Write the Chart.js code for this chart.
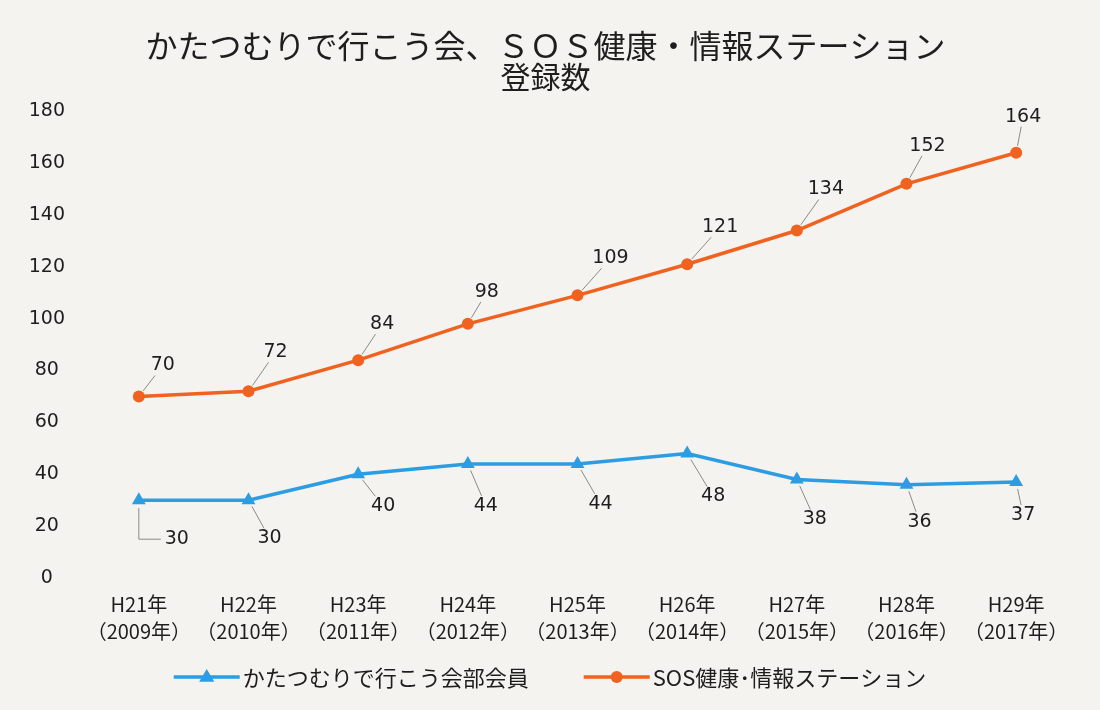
<!DOCTYPE html>
<html lang="ja">
<head>
<meta charset="UTF-8">
<title>登録数</title>
<script src="https://cdn.jsdelivr.net/npm/chart.js"></script>
<style>
  html, body { margin: 0; padding: 0; background: #f4f3ef; }
</style>
</head>
<body>
<canvas id="chart" width="1100" height="710"></canvas>
<script>
// data
const years = [
  ['H21年', '（2009年）'], ['H22年', '（2010年）'], ['H23年', '（2011年）'],
  ['H24年', '（2012年）'], ['H25年', '（2013年）'], ['H26年', '（2014年）'],
  ['H27年', '（2015年）'], ['H28年', '（2016年）'], ['H29年', '（2017年）']
];
const memberCounts = [30, 30, 40, 44, 44, 48, 38, 36, 37];
const stationCounts = [70, 72, 84, 98, 109, 121, 134, 152, 164];
const memberLabel = 'かたつむりで行こう会部会員';
const stationLabel = 'SOS健康･情報ステーション';
const yMin = 0, yMax = 180, yStep = 20;

const FONT = '"DejaVu Sans", "Noto Sans CJK JP", sans-serif';
const JFONT = '"Noto Sans CJK JP", "DejaVu Sans", sans-serif';
const BLUE = '#2c9de2';
const ORANGE = '#f0621f';

// where each value label sits relative to its point (px)
const memberOffsets = [[38, 39], [21, 38], [25, 32], [18, 42], [23, 40], [26, 43], [18, 40], [13, 37], [7, 33]];
const stationOffsets = [[24, -31], [27, -39], [24, -36], [19, -32], [33, -37], [33, -37], [29, -41], [21, -38], [7, -36]];

function drawMarker(ctx, style, x, y, r, color) {
  ctx.fillStyle = color;
  ctx.beginPath();
  if (style === 'triangle') {
    ctx.moveTo(x, y - r);
    ctx.lineTo(x + r * 0.95, y + r * 0.6);
    ctx.lineTo(x - r * 0.95, y + r * 0.6);
    ctx.closePath();
  } else {
    ctx.arc(x, y, r, 0, Math.PI * 2);
  }
  ctx.fill();
}

const valueLabels = {
  id: 'valueLabels',
  afterDatasetsDraw(chart) {
    const ctx = chart.ctx;
    ctx.save();
    ctx.font = '19px ' + FONT;
    ctx.textAlign = 'center';
    ctx.textBaseline = 'middle';
    chart.data.datasets.forEach((ds, i) => {
      const meta = chart.getDatasetMeta(i);
      meta.data.forEach((pt, j) => {
        const [dx, dy] = ds.labelOffsets[j];
        const lx = pt.x + dx, ly = pt.y + dy;
        ctx.strokeStyle = '#8a8a8a';
        ctx.lineWidth = 1;
        ctx.beginPath();
        if (ds.elbowFirst && j === 0) {
          ctx.moveTo(pt.x, pt.y + 8);
          ctx.lineTo(pt.x, ly);
          ctx.lineTo(lx - 16, ly);
        } else {
          const len = Math.hypot(dx, dy);
          const t0 = 7 / len;
          const t1 = (Math.abs(dy) - 10) / Math.abs(dy);
          ctx.moveTo(pt.x + dx * t0, pt.y + dy * t0);
          ctx.lineTo(pt.x + dx * t1, pt.y + dy * t1);
        }
        ctx.stroke();
        ctx.fillStyle = '#1e1e1e';
        ctx.fillText(String(ds.data[j]), lx, ly);
      });
    });
    ctx.restore();
  }
};

// legend: line sample with marker, then text, centred under the chart
const lineLegend = {
  id: 'lineLegend',
  afterDraw(chart) {
    const ctx = chart.ctx;
    const y = 677, sample = 66, gap = 3, itemGap = 55;
    ctx.save();
    ctx.font = '22px ' + JFONT;
    ctx.textBaseline = 'middle';
    const items = chart.data.datasets.map(ds => ({ ds, w: sample + gap + ctx.measureText(ds.label).width }));
    const total = items.reduce((s, it) => s + it.w, 0) + itemGap * (items.length - 1);
    let x = chart.width / 2 - total / 2;
    items.forEach(it => {
      const ds = it.ds;
      ctx.strokeStyle = ds.borderColor;
      ctx.lineWidth = 3.5;
      ctx.beginPath();
      ctx.moveTo(x, y);
      ctx.lineTo(x + sample, y);
      ctx.stroke();
      drawMarker(ctx, ds.pointStyle, x + sample / 2, y, ds.pointRadius, ds.borderColor);
      ctx.fillStyle = '#1e1e1e';
      ctx.textAlign = 'left';
      ctx.fillText(ds.label, x + sample + gap, y + 1);
      x += it.w + itemGap;
    });
    ctx.restore();
  }
};

new Chart(document.getElementById('chart'), {
  type: 'line',
  data: {
    labels: years,
    datasets: [
      {
        label: memberLabel,
        data: memberCounts,
        borderColor: BLUE,
        backgroundColor: BLUE,
        borderWidth: 3.5,
        pointStyle: 'triangle',
        pointRadius: 8,
        pointBorderWidth: 0,
        tension: 0,
        labelOffsets: memberOffsets,
        elbowFirst: true
      },
      {
        label: stationLabel,
        data: stationCounts,
        borderColor: ORANGE,
        backgroundColor: ORANGE,
        borderWidth: 3.5,
        pointStyle: 'circle',
        pointRadius: 6,
        pointBorderWidth: 0,
        tension: 0,
        labelOffsets: stationOffsets
      }
    ]
  },
  options: {
    responsive: false,
    animation: false,
    layout: { padding: { top: 18, right: 29, bottom: 60, left: 20 } },
    scales: {
      x: {
        offset: true,
        grid: { display: false },
        border: { display: false },
        ticks: {
          color: '#1e1e1e',
          font: { family: JFONT, size: 20, lineHeight: 1.35 },
          padding: 5,
          maxRotation: 0,
          autoSkip: false
        }
      },
      y: {
        min: yMin,
        max: yMax,
        grid: { display: false },
        border: { display: false },
        afterFit(scale) { scale.width = 64; },
        ticks: {
          stepSize: yStep,
          crossAlign: 'center',
          padding: 11,
          color: '#1e1e1e',
          font: { family: FONT, size: 19 }
        }
      }
    },
    plugins: {
      legend: { display: false },
      tooltip: { enabled: false },
      title: {
        display: true,
        text: 'かたつむりで行こう会、ＳＯＳ健康・情報ステーション',
        color: '#1e1e1e',
        font: { family: JFONT, size: 32, weight: 'normal', lineHeight: 1.1 },
        padding: { top: 10, bottom: 0 }
      },
      subtitle: {
        display: true,
        text: '登録数',
        color: '#1e1e1e',
        font: { family: JFONT, size: 30, weight: 'normal', lineHeight: 1.0 },
        padding: { top: -2, bottom: 20 }
      }
    }
  },
  plugins: [valueLabels, lineLegend]
});
</script>
</body>
</html>
